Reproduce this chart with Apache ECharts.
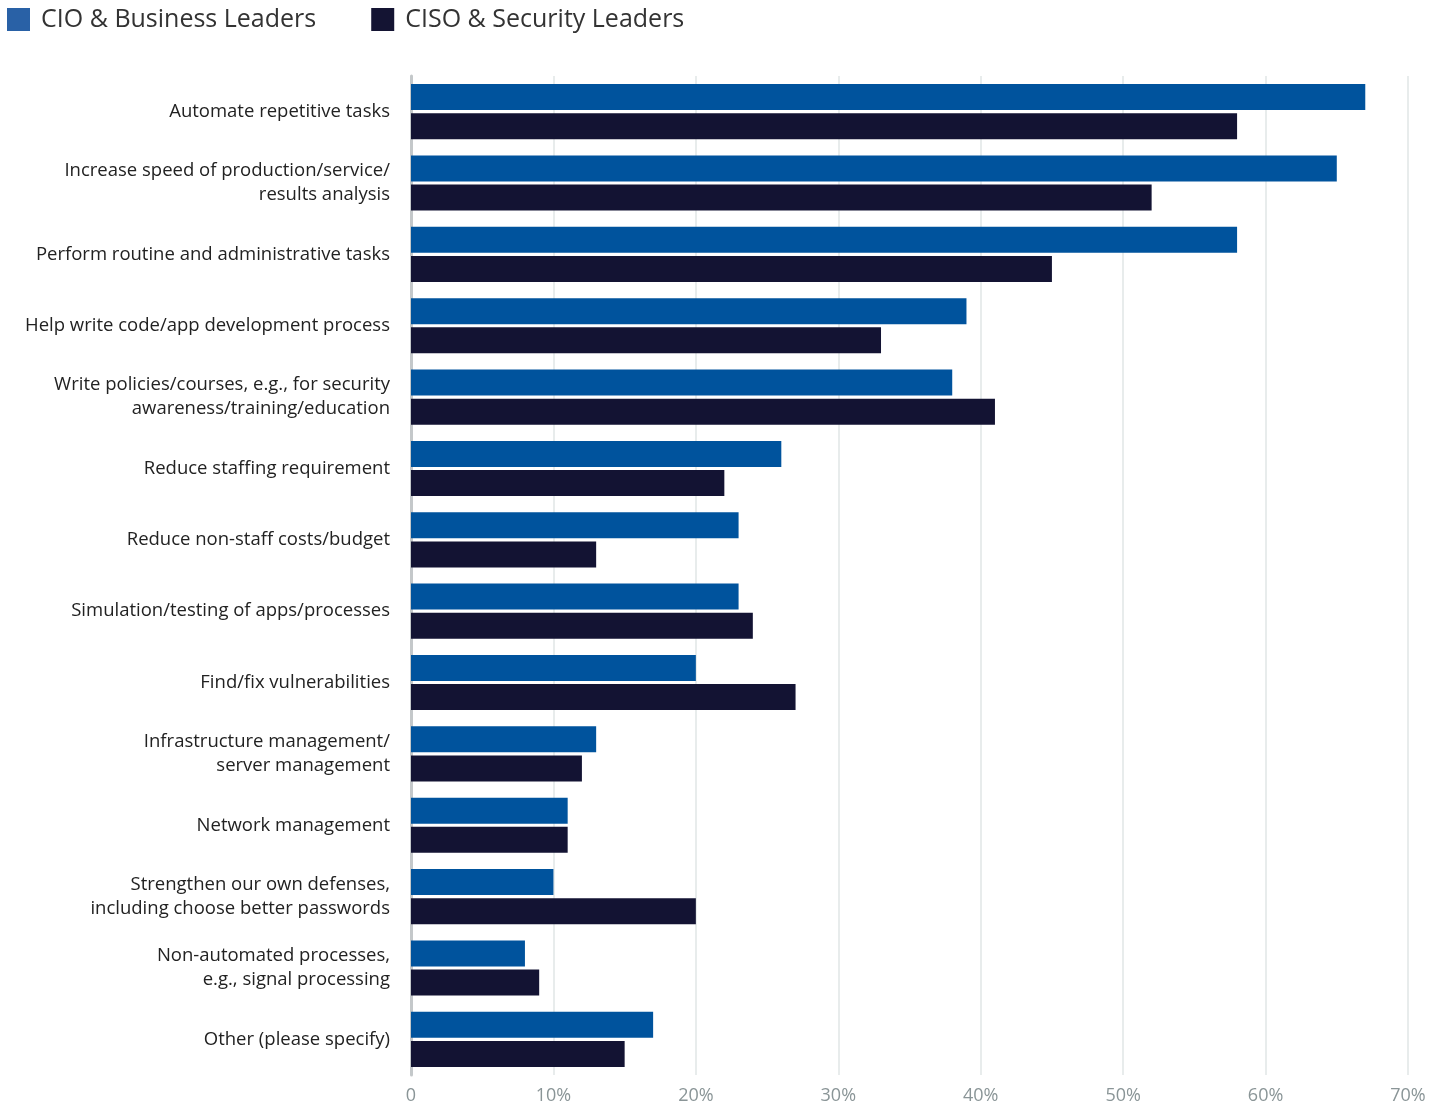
<!DOCTYPE html>
<html>
<head>
<meta charset="utf-8">
<script src="https://cdn.jsdelivr.net/npm/echarts@6/dist/echarts.min.js"></script>
<style>
  html, body { margin: 0; padding: 0; background: #fff; }
  #chart { width: 1447px; height: 1105px; }
</style>
</head>
<body>
<div id="chart"></div>
<script>
var categories = [
  'Automate repetitive tasks',
  'Increase speed of production/service/\nresults analysis',
  'Perform routine and administrative tasks',
  'Help write code/app development process',
  'Write policies/courses, e.g., for security\nawareness/training/education',
  'Reduce staffing requirement',
  'Reduce non-staff costs/budget',
  'Simulation/testing of apps/processes',
  'Find/fix vulnerabilities',
  'Infrastructure management/\nserver management',
  'Network management',
  'Strengthen our own defenses,\nincluding choose better passwords',
  'Non-automated processes,\ne.g., signal processing',
  'Other (please specify)'
];
var cioValues = [67, 65, 58, 39, 38, 26, 23, 23, 20, 13, 11, 10, 8, 17];
var cisoValues = [58, 52, 45, 33, 41, 22, 13, 24, 27, 12, 11, 20, 9, 15];
var seriesNames = ['CIO & Business Leaders', 'CISO & Security Leaders'];

var chart = echarts.init(document.getElementById('chart'));
var font = '"Open Sans", Lato, sans-serif';

var option = {
  animation: false,
  textStyle: { fontFamily: font },
  legend: {
    left: 2,
    top: 2,
    itemWidth: 23,
    itemHeight: 23,
    itemGap: 55,
    icon: 'rect',
    textStyle: { fontSize: 25, color: '#333', fontFamily: font, padding: [0, 0, 0, 6] },
    data: [
      { name: seriesNames[0], itemStyle: { color: '#2961a6' } },
      { name: seriesNames[1], itemStyle: { color: '#141433' } }
    ]
  },
  grid: { left: 411, right: 39, top: 76, bottom: 28, containLabel: false },
  xAxis: {
    type: 'value',
    min: 0,
    max: 70,
    interval: 10,
    axisLine: { show: false },
    axisTick: { show: false },
    splitLine: { lineStyle: { color: '#e8ecec', width: 2 } },
    axisLabel: {
      color: '#8a9597',
      fontSize: 18,
      margin: 12,
      formatter: function (v) { return v === 0 ? '0' : v + '%'; }
    }
  },
  yAxis: {
    type: 'category',
    inverse: true,
    data: categories,
    axisLine: { show: true, lineStyle: { color: '#c4c8ca', width: 3 } },
    axisTick: { show: false },
    axisLabel: {
      color: '#222',
      fontSize: 18.5,
      lineHeight: 24,
      margin: 21,
      align: 'right'
    }
  },
  series: [
    {
      name: seriesNames[0],
      type: 'bar',
      data: cioValues,
      barWidth: 26,
      barGap: '12%',
      itemStyle: { color: '#00539d' }
    },
    {
      name: seriesNames[1],
      type: 'bar',
      data: cisoValues,
      barWidth: 26,
      barGap: '12%',
      itemStyle: { color: '#131333' }
    }
  ]
};
chart.setOption(option);
</script>
</body>
</html>
